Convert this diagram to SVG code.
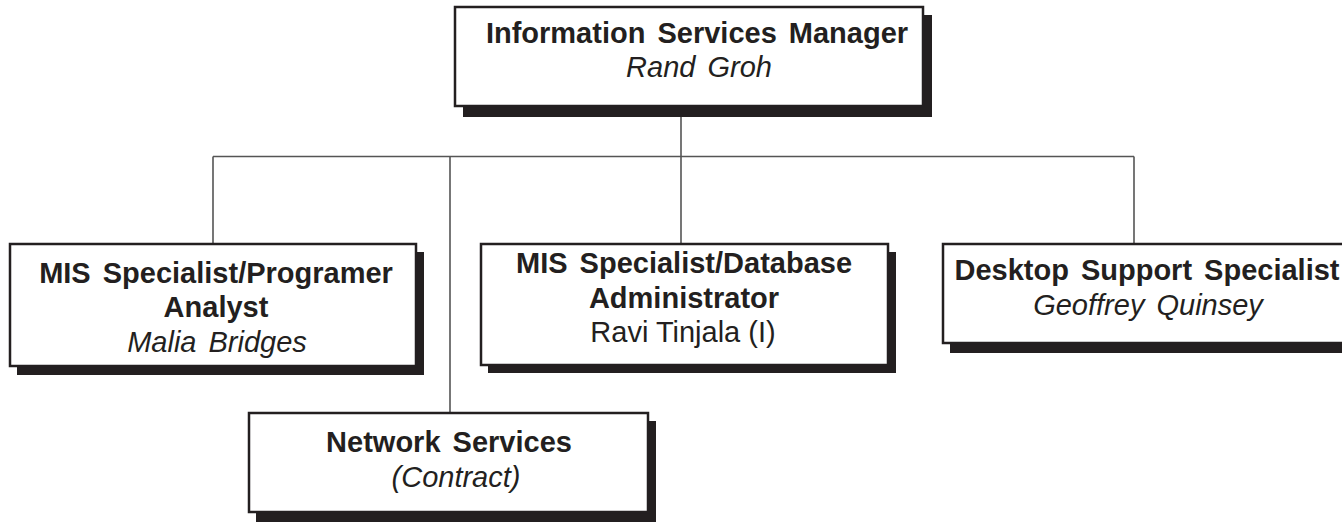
<svg xmlns="http://www.w3.org/2000/svg" width="1342" height="522" viewBox="0 0 1342 522">
<style>
.box{fill:#ffffff;stroke:#231f20;stroke-width:2.5}
.shadow{fill:#231f20}
.conn{stroke:#555555;stroke-width:1.6;fill:none}
text{font-family:"Liberation Sans",Arial,sans-serif;font-size:29px;fill:#231f20;text-anchor:middle;word-spacing:4px}
.b{font-weight:bold}
.i{font-style:italic}
.n{word-spacing:0px}
</style>
<rect width="1342" height="522" fill="#ffffff"/>
<g id="connectors">
<path class="conn" d="M681 106 V244 M213 156.5 H1134 M213 156.5 V244 M450 156.5 V413 M1134 156.5 V244"/>
</g>
<g id="manager">
<rect class="shadow" x="463" y="15" width="469" height="102"/>
<rect class="box" x="455" y="7" width="468" height="99"/>
<text class="b" x="697" y="43">Information Services Manager</text>
<text class="i" x="699" y="77">Rand Groh</text>
</g>
<g id="programer">
<rect class="shadow" x="17" y="252" width="407" height="123"/>
<rect class="box" x="10" y="244" width="406" height="122"/>
<text class="b" x="216" y="283">MIS Specialist/Programer</text>
<text class="b" x="216" y="317">Analyst</text>
<text class="i" x="217" y="352">Malia Bridges</text>
</g>
<g id="database">
<rect class="shadow" x="488" y="252" width="408" height="121"/>
<rect class="box" x="481" y="244" width="407" height="121"/>
<text class="b" x="684" y="273">MIS Specialist/Database</text>
<text class="b" x="684" y="308">Administrator</text>
<text class="n" x="683" y="342">Ravi Tinjala (I)</text>
</g>
<g id="desktop">
<rect class="shadow" x="950" y="252" width="410" height="101"/>
<rect class="box" x="943" y="244" width="410" height="99"/>
<text class="b" x="1147" y="280">Desktop Support Specialist</text>
<text class="i" x="1148" y="315">Geoffrey Quinsey</text>
</g>
<g id="network">
<rect class="shadow" x="256" y="421" width="400" height="110"/>
<rect class="box" x="249" y="413" width="399" height="99"/>
<text class="b" x="449" y="452">Network Services</text>
<text class="i" x="456" y="487">(Contract)</text>
</g>
</svg>
